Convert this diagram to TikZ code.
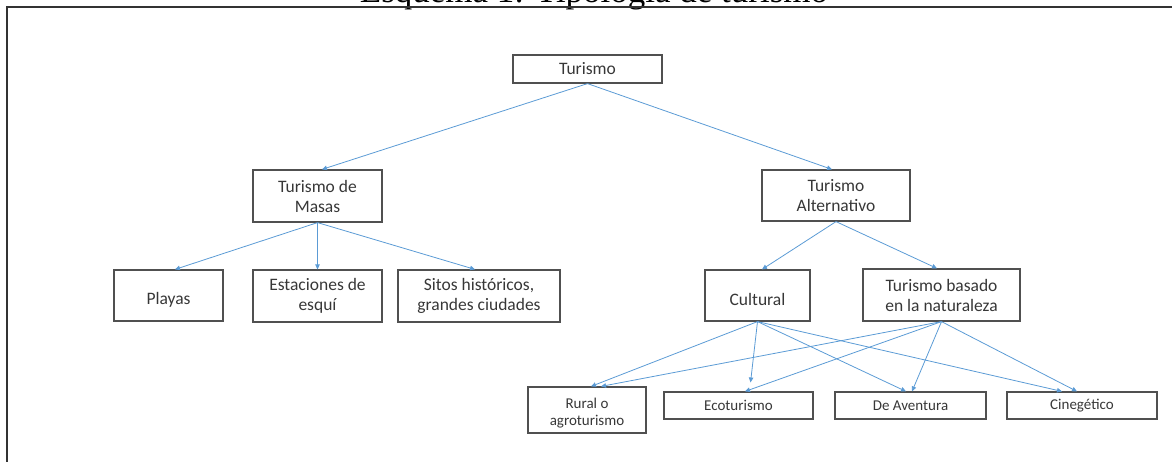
\documentclass[tikz,border=0pt]{standalone}
\usepackage{fontspec}
\setmainfont{Carlito}
\newfontfamily\titlefont{Liberation Serif}
\usetikzlibrary{arrows.meta,calc}
\definecolor{linkblue}{RGB}{91,155,213}
\definecolor{boxgray}{RGB}{80,80,80}
\definecolor{txtgray}{RGB}{55,55,55}
\begin{document}
\begin{tikzpicture}[x=1pt,y=-1pt,
  box/.style={draw=boxgray, line width=1.2pt, inner sep=0pt, align=center, text=txtgray,
    font=\fontsize{17.5}{20}\selectfont},
  small/.style={font=\fontsize{15}{17}\selectfont},
  link/.style={draw=linkblue, line width=0.8pt, -{Triangle[length=5pt,width=4.5pt]}}]
\useasboundingbox (0,0) rectangle (1172,461);
\node[font=\titlefont\fontsize{35}{40}\selectfont, anchor=base, inner sep=0pt] (title) at (594,2.5) {Esquema 1: Tipología de turismo};
\draw[line width=1.3pt, black!80] (7,480) |- (1190,7);
% level 0
\node[box, minimum width=149pt, minimum height=28pt] (tur) at (587.5,69) {Turismo};
% level 1
\node[box, minimum width=129pt, minimum height=52pt] (masas) at (317.5,196) {Turismo de\\Masas};
\node[box, minimum width=148pt, minimum height=51pt] (alt) at (836,195.5) {Turismo\\Alternativo};
% level 2
\node[box, minimum width=109pt, minimum height=51pt] (playas) at (168.5,295.5) {\mbox{}\\Playas};
\node[box, minimum width=129pt, minimum height=52pt] (esqui) at (317.5,296) {Estaciones de\\esquí};
\node[box, minimum width=162pt, minimum height=52pt] (sitos) at (479,296) {Sitos históricos,\\grandes ciudades};
\node[box, minimum width=105pt, minimum height=51pt] (cultural) at (757.5,295.5) {\mbox{}\\Cultural};
\node[box, minimum width=157pt, minimum height=52pt] (natur) at (941.5,295) {Turismo basado\\en la naturaleza};
% level 3
\node[box, small, minimum width=118pt, minimum height=46pt] (rural) at (587,410) {\rule{0pt}{17pt}Rural o\\agroturismo};
\node[box, small, minimum width=149pt, minimum height=27pt] (eco) at (738.5,405.5) {Ecoturismo};
\node[box, small, minimum width=151pt, minimum height=27pt] (avent) at (910.5,405.5) {De Aventura};
\node[box, small, minimum width=150pt, minimum height=27pt] (cineg) at (1082,405.5) {Cinegético};
% connectors
\draw[link] (tur.south) -- ($(masas.north)+(4.5,0)$);
\draw[link] (tur.south) -- ($(alt.north)+(-4,0)$);
\draw[link] (masas.south) -- ($(playas.north)+(6.5,0)$);
\draw[link] (masas.south) -- (esqui.north);
\draw[link] (masas.south) -- ($(sitos.north)+(-4,0)$);
\draw[link] (alt.south) -- ($(cultural.north)+(4.5,0)$);
\draw[link] (alt.south) -- ($(natur.north)+(-4.5,0)$);
\draw[link] (cultural.south) -- ($(rural.north)+(4,0)$);
\draw[link, shorten >=9pt] (cultural.south) -- ($(eco.north)+(11,0)$);
\draw[link] (cultural.south) -- ($(avent.north)+(-4.5,0)$);
\draw[link] (cultural.south) -- ($(cineg.north)+(-20,0)$);
\draw[link] (natur.south) -- ($(rural.north)+(14,0)$);
\draw[link] (natur.south) -- ($(eco.north)+(6.5,0)$);
\draw[link] (natur.south) -- ($(avent.north)+(1.5,0)$);
\draw[link] (natur.south) -- ($(cineg.north)+(-5,0)$);
\end{tikzpicture}
\end{document}
